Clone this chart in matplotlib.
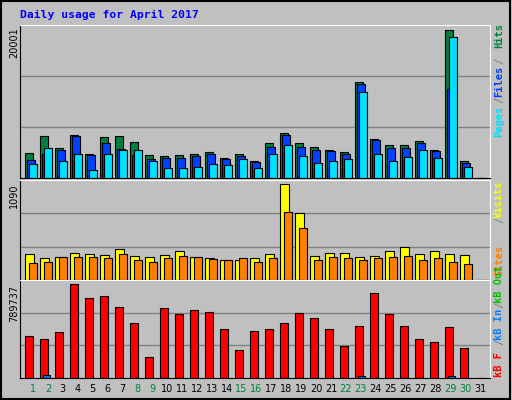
import matplotlib
matplotlib.use("Agg")
import matplotlib.pyplot as plt
import numpy as np

days = list(range(1, 32))
weekend = [1, 2, 8, 9, 15, 16, 22, 23, 29, 30]

hits = [3300, 5500, 3900, 5700, 3100, 5400, 5500, 4700, 3000, 2900, 3000, 3200, 3400,
        2700, 3200, 2200, 4600, 6000, 4600, 4100, 3700, 3400, 12600, 5200, 4300, 4300,
        4900, 3700, 19500, 2300, 0]
files = [2400, 3100, 3700, 5500, 3000, 4600, 3800, 3000, 2500, 2700, 2600, 2900, 3200,
         2500, 2900, 2100, 4100, 5700, 4100, 3700, 3600, 3100, 12400, 5000, 3900, 3900,
         4600, 3600, 11700, 2000, 0]
pages = [1800, 3900, 2300, 3200, 1000, 3200, 3700, 3700, 2300, 1300, 1300, 1500, 1800,
         1700, 2500, 1300, 3200, 4400, 2900, 2000, 2200, 2500, 11300, 3100, 2200, 2800,
         3700, 2600, 18600, 1400, 0]
visits = [300, 250, 262, 310, 300, 287, 353, 275, 262, 287, 325, 262, 250,
          226, 226, 250, 300, 1090, 757, 275, 310, 310, 262, 275, 325, 372,
          300, 325, 300, 287, 0]
sites = [198, 210, 262, 262, 262, 250, 293, 222, 210, 250, 275, 262, 238,
         226, 250, 210, 250, 773, 594, 226, 262, 250, 226, 250, 262, 275,
         226, 250, 210, 186, 0]
kb_f = [354000, 328000, 383000, 789737, 676000, 694000, 598000, 459000, 180000, 589000,
        537000, 572000, 554000, 415000, 232000, 398000, 415000, 459000, 546000, 502000,
        415000, 267000, 441000, 711000, 537000, 441000, 328000, 302000, 433000, 250000, 0]
kb_in = [0, 26000, 0, 0, 0, 0, 0, 0, 0, 0, 0, 0, 0, 0, 0, 0, 0, 0, 0, 0,
         0, 0, 14000, 0, 0, 0, 0, 0, 14000, 0, 0]

BG = "#C0C0C0"
W, H = 512, 400
fig = plt.figure(figsize=(W / 100, H / 100), dpi=100, facecolor=BG)
fig.patches.append(plt.Rectangle((0.002, 0.003), 0.995, 0.994, transform=fig.transFigure,
                                 fill=False, edgecolor="black", lw=1.5))

x = np.arange(31)


def panel(top, bottom, ymax):
    ax = fig.add_axes([20 / W, 1 - bottom / H, 470 / W, (bottom - top) / H])
    ax.set_facecolor(BG)
    ax.set_xlim(-0.33, 31)
    ax.set_ylim(0, ymax)
    ax.set_xticks([])
    ax.set_yticks([])
    for s in ("left", "bottom"):
        ax.spines[s].set_color("black")
    for s in ("right", "top"):
        ax.spines[s].set_color("white")
    for f in (1 / 3, 2 / 3):
        ax.axhline(ymax * f, color="#808080", lw=1, zorder=0)
    return ax


bw = 0.53
ax1 = panel(25, 178, 20001 * 455 / 451)
ax1.bar(x, hits, bw, align="edge", color="#008040", edgecolor="black", lw=0.8)
ax1.bar(x + 0.13, files, bw, align="edge", color="#0040FF", edgecolor="black", lw=0.8)
ax1.bar(x + 0.27, pages, bw, align="edge", color="#00E0FF", edgecolor="black", lw=0.8)

ax2 = panel(180, 280, 1090 * 287 / 275)
ax2.bar(x, visits, 0.6, align="edge", color="#FFFF00", edgecolor="black", lw=0.8)
ax2.bar(x + 0.27, sites, bw, align="edge", color="#FF8000", edgecolor="black", lw=0.8)

ax3 = panel(280, 378, 789737 * 284 / 272)
ax3.bar(x, kb_f, bw, align="edge", color="#FF0000", edgecolor="black", lw=0.8)
ax3.bar(x + 0.18, kb_in, 0.5, align="edge", color="#0080FF", edgecolor="black", lw=0.8)

fig.text(20 / W, 1 - 15 / H, "Daily usage for April 2017", color="#0000FF",
         family="DejaVu Sans Mono", weight="bold", fontsize=8.2, va="center")

for lab, ytop in (("20001", 27), ("1090", 183), ("789737", 285)):
    fig.text(14 / W, 1 - ytop / H, lab, rotation=90, fontsize=7, ha="center", va="top")

for d in days:
    fig.text((33 + (d - 1) * 14.9) / W, 1 - 389 / H, str(d), fontsize=7, ha="center",
             va="center", color="#008040" if d in weekend else "black")

# right hand legends: (text, colour, bottom pixel)
GRY = "#808080"
legend_parts = [
    ("Pages", "#00E0FF", 137), ("/", GRY, 103), ("Files", "#0040FF", 97),
    ("/", GRY, 64), ("Hits", "#008040", 48),
    ("Sites", "#FF8000", 276), ("/", GRY, 223), ("Visits", "#FFFF00", 218),
    ("kB F", "#FF0000", 377), ("/", GRY, 345), ("kB In", "#0080FF", 340),
    ("/", GRY, 308), ("kB Out", "#00C000", 303),
]
for txt, col, yb in legend_parts:
    fig.text(499 / W, 1 - yb / H, txt, rotation=90, color=col, fontsize=7.5,
             family="DejaVu Sans Mono", weight="bold", ha="center", va="bottom")

fig.savefig("out.png", dpi=100, facecolor=BG)
